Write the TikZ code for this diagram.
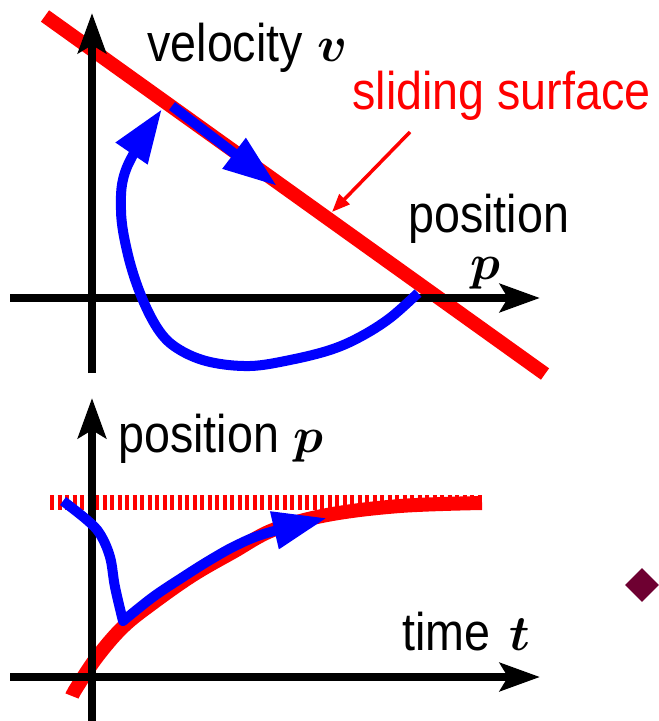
\documentclass[tikz,border=0pt]{standalone}
\usepackage{amsmath,amssymb}
\usepackage{fontspec}
\setmainfont{Liberation Sans}
\usepackage{graphicx}
\usetikzlibrary{arrows.meta,shapes.geometric}
\definecolor{surf}{HTML}{FF0000}
\definecolor{traj}{HTML}{0000FF}
\definecolor{maroon}{HTML}{6E0031}
\tikzset{axis/.style={line width=4.25pt,-{Stealth[length=20pt,width=14pt,inset=4pt]}},
  surface/.style={surf,line width=7pt},
  target/.style={surf,line width=7.5pt,dash pattern=on 2pt off 1.75pt},
  pointer/.style={surf,line width=1.75pt,-{Triangle[length=9pt,width=7pt]}},
  trajline/.style={traj,line width=5pt,line join=round,-{Triangle[length=27pt,width=18pt]}},
  lab/.style={font=\fontsize{26.5}{30}\selectfont,inner sep=0pt,anchor=base west},
  dot/.style={diamond,fill=maroon,inner sep=0pt,minimum width=17pt,minimum height=17pt}}
\newcommand{\narrow}[1]{\scalebox{0.88}[1]{#1}}

\begin{document}
\begin{tikzpicture}[x=0.5pt,y=-0.5pt]
\useasboundingbox (0,0) rectangle (658,721);
% phase plane
\draw[surface] (45,16)--(545,374);
\draw[axis] (92,373)--(92,13);
\draw[axis] (10,298)--(540,298);
\draw[trajline] plot[smooth,tension=.6] coordinates {(418,293) (390,318) (360,337) (330,350) (290,360)
  (250,366) (210,362) (180,350) (160,332) (142,298) (128,255) (121,210) (127,167) (162,109)};
\draw[trajline] (172,106)--(277,186);
\node[lab] (vlab) at (147,62) {\narrow{velocity} $\boldsymbol{v}$};
\node[lab,text=surf] (slab) at (352,110) {\narrow{sliding surface}};
\coordinate (sfrom) at (410,132);
\coordinate (sto) at (332,212);
\draw[pointer] (sfrom)--(sto);
\node[lab] (ptop) at (408,233) {\narrow{position}};
\node[lab] (pvar) at (470,279) {$\boldsymbol{p}$};
% time response
\draw[target] (50,502)--(482,502);
\draw[surface] plot[smooth,tension=.6] coordinates {(72,696) (77,687) (97,657) (123,627) (153,603)
  (193,575) (233,552) (273,530) (327,515) (400,506) (482,503)};
\draw[axis] (92,721)--(92,398);
\draw[axis] (10,677)--(540,677);
\draw[trajline] plot[smooth,tension=.6] coordinates {(63,501) (87,520) (100,534) (110,557) (115,587)
  (123,621)} -- plot[smooth,tension=.6] coordinates {(123,621) (153,597) (183,577) (210,560)
  (237,545) (267,533) (327,518)};
\node[lab] (plab) at (118,452) {\narrow{position} $\boldsymbol{p}$};
\node[lab] (tlab) at (402,650) {\narrow{time}\hspace{2pt} $\boldsymbol{t}$};
\node[dot] (mk) at (642,585) {};
\end{tikzpicture}
\end{document}
